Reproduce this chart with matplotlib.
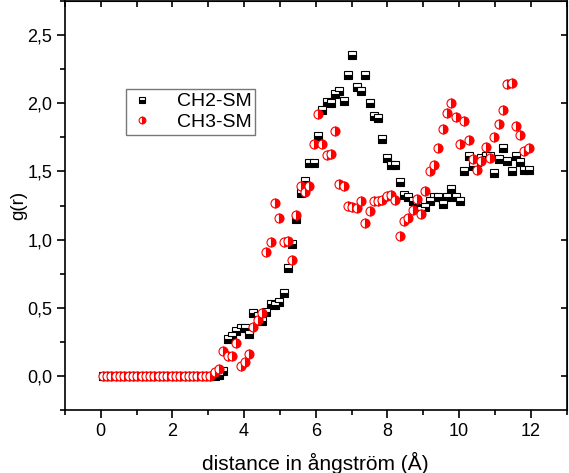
import matplotlib.pyplot as plt
from matplotlib.ticker import MultipleLocator, FuncFormatter

plt.rcParams['font.family'] = ['Liberation Sans', 'DejaVu Sans']

# distance bins (Å)
r = [0.06, 0.18, 0.30, 0.42, 0.54, 0.66, 0.78, 0.90, 1.02, 1.14,
     1.26, 1.38, 1.50, 1.62, 1.74, 1.86, 1.98, 2.10, 2.22, 2.34,
     2.46, 2.58, 2.70, 2.82, 2.94, 3.06, 3.18, 3.30, 3.42, 3.54,
     3.66, 3.78, 3.90, 4.02, 4.14, 4.26, 4.38, 4.50, 4.62, 4.74,
     4.86, 4.98, 5.10, 5.22, 5.34, 5.46, 5.58, 5.70, 5.82, 5.94,
     6.06, 6.18, 6.30, 6.42, 6.54, 6.66, 6.78, 6.90, 7.02, 7.14,
     7.26, 7.38, 7.50, 7.62, 7.74, 7.86, 7.98, 8.10, 8.22, 8.34,
     8.46, 8.58, 8.70, 8.82, 8.94, 9.06, 9.18, 9.30, 9.42, 9.54,
     9.66, 9.78, 9.90, 10.02, 10.14, 10.26, 10.38, 10.50, 10.62, 10.74,
     10.86, 10.98, 11.10, 11.22, 11.34, 11.46, 11.58, 11.70, 11.82, 11.94]

g_ch2 = [0.0, 0.0, 0.0, 0.0, 0.0, 0.0, 0.0, 0.0, 0.0, 0.0,
         0.0, 0.0, 0.0, 0.0, 0.0, 0.0, 0.0, 0.0, 0.0, 0.0,
         0.0, 0.0, 0.0, 0.0, 0.0, 0.0, 0.0, 0.01, 0.04, 0.27,
         0.29, 0.33, 0.35, 0.35, 0.31, 0.46, 0.44, 0.40, 0.47, 0.53,
         0.52, 0.54, 0.61, 0.79, 0.97, 1.15, 1.34, 1.43, 1.56, 1.56,
         1.76, 1.95, 2.01, 2.00, 2.07, 2.09, 2.02, 2.21, 2.35, 2.12,
         2.09, 2.21, 2.00, 1.91, 1.89, 1.74, 1.60, 1.55, 1.55, 1.42,
         1.33, 1.31, 1.28, 1.26, 1.22, 1.24, 1.28, 1.31, 1.31, 1.26,
         1.31, 1.37, 1.31, 1.28, 1.50, 1.61, 1.54, 1.57, 1.60, 1.61,
         1.61, 1.49, 1.59, 1.67, 1.58, 1.50, 1.61, 1.57, 1.51, 1.51]

g_ch3 = [0.0, 0.0, 0.0, 0.0, 0.0, 0.0, 0.0, 0.0, 0.0, 0.0,
         0.0, 0.0, 0.0, 0.0, 0.0, 0.0, 0.0, 0.0, 0.0, 0.0,
         0.0, 0.0, 0.0, 0.0, 0.0, 0.0, 0.03, 0.05, 0.18, 0.15,
         0.15, 0.24, 0.07, 0.10, 0.16, 0.36, 0.41, 0.46, 0.91, 0.98,
         1.27, 1.16, 0.98, 0.99, 0.85, 1.18, 1.39, 1.35, 1.39, 1.70,
         1.92, 1.70, 1.62, 1.63, 1.80, 1.41, 1.39, 1.25, 1.24, 1.23,
         1.28, 1.12, 1.21, 1.28, 1.28, 1.29, 1.32, 1.33, 1.29, 1.03,
         1.14, 1.16, 1.22, 1.30, 1.19, 1.36, 1.50, 1.55, 1.67, 1.81,
         1.93, 2.00, 1.90, 1.70, 1.87, 1.73, 1.59, 1.51, 1.58, 1.68,
         1.60, 1.75, 1.85, 1.95, 2.14, 2.15, 1.83, 1.77, 1.65, 1.67]

fig = plt.figure(figsize=(5.69, 4.73), dpi=100)
ax = fig.add_axes([0.114, 0.133, 0.882, 0.865])

ax.plot(r, g_ch2, ls='none', marker='s', markersize=6, fillstyle='bottom',
        markerfacecolor='black', markerfacecoloralt='white',
        markeredgecolor='black', markeredgewidth=0.8, label='CH2-SM')
ax.plot(r, g_ch3, ls='none', marker='o', markersize=6.5, fillstyle='right',
        markerfacecolor='red', markerfacecoloralt='white',
        markeredgecolor='red', markeredgewidth=0.8, label='CH3-SM')

ax.set_xlim(-1, 13)
ax.set_ylim(-0.25, 2.75)
ax.xaxis.set_major_locator(MultipleLocator(2))
ax.xaxis.set_minor_locator(MultipleLocator(1))
ax.yaxis.set_major_locator(MultipleLocator(0.5))
ax.yaxis.set_minor_locator(MultipleLocator(0.25))
ax.yaxis.set_major_formatter(FuncFormatter(lambda v, p: f'{v:.1f}'.replace('.', ',')))

ax.tick_params(which='both', direction='out', top=False, right=False, labelsize=13, width=1.2)
ax.tick_params(which='major', length=6, pad=3)
ax.tick_params(which='minor', length=3.5)
for s in ax.spines.values():
    s.set_linewidth(1.2)

# inward ticks on top and right
sec_x = ax.secondary_xaxis('top')
sec_x.xaxis.set_major_locator(MultipleLocator(1))
sec_x.tick_params(direction='in', length=4, width=1.2, labeltop=False)
sec_y = ax.secondary_yaxis('right')
sec_y.yaxis.set_major_locator(MultipleLocator(0.5))
sec_y.tick_params(direction='in', length=4, width=1.2, labelright=False)

ax.set_xlabel('distance in ångström (Å)', fontsize=15, labelpad=9)
ax.set_ylabel('g(r)', fontsize=13.5, labelpad=0)

leg = ax.legend(loc='upper left', bbox_to_anchor=(0.122, 0.785), borderaxespad=0,
                fontsize=14, frameon=True, fancybox=False, edgecolor='#555555',
                handlelength=1.2, handletextpad=1.2, borderpad=0.2,
                labelspacing=0.15, markerscale=0.75)
leg.get_frame().set_linewidth(1.0)

plt.savefig('out.png', dpi=100)
